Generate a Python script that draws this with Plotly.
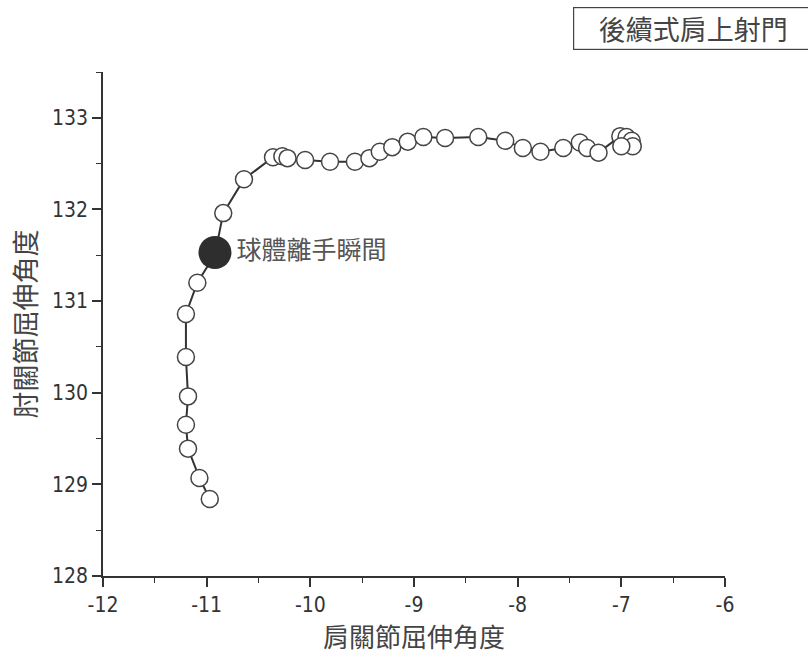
import plotly.graph_objects as go

# Trajectory (shoulder angle x, elbow angle y)
shoulder = [-10.97, -11.07, -11.18, -11.20, -11.18, -11.20, -11.20, -11.09, -10.92,
            -10.84, -10.64, -10.36, -10.27, -10.22, -10.05, -9.81, -9.57, -9.43,
            -9.33, -9.21, -9.06, -8.91, -8.70, -8.38, -8.12, -7.95, -7.78, -7.56,
            -7.40, -7.33, -7.22, -7.01, -6.95, -6.90, -6.89, -7.00]
elbow = [128.84, 129.07, 129.39, 129.65, 129.96, 130.39, 130.86, 131.20, 131.51,
         131.96, 132.33, 132.57, 132.58, 132.56, 132.54, 132.52, 132.52, 132.56,
         132.63, 132.68, 132.74, 132.79, 132.78, 132.79, 132.75, 132.67, 132.63, 132.67,
         132.73, 132.67, 132.62, 132.80, 132.79, 132.75, 132.69, 132.69]
release_x = [-10.92]
release_y = [131.53]
release_label = "球體離手瞬間"
title_text = "後續式肩上射門"
x_title = "肩關節屈伸角度"
y_title = "肘關節屈伸角度"
x_ticks = [-12, -11, -10, -9, -8, -7, -6]
x_ticktext = ["-12", "-11", "-10", "-9", "-8", "-7", "-6"]
y_ticks = [128, 129, 130, 131, 132, 133]
y_ticktext = ["128", "129", "130", "131", "132", "133"]

cjk = "Noto Sans CJK TC"
num_font = "DejaVu Sans Condensed, Liberation Sans"
ink = "#333333"

fig = go.Figure()
fig.add_trace(go.Scatter(
    x=shoulder, y=elbow, mode="lines+markers",
    line=dict(color=ink, width=2),
    marker=dict(size=17, color="white", line=dict(color="#444", width=1.5)),
    showlegend=False, hoverinfo="skip"))
fig.add_trace(go.Scatter(
    x=release_x, y=release_y, mode="markers+text",
    marker=dict(size=33, color="#2e2e2e", line=dict(width=0)),
    text=[release_label], textposition="middle right",
    textfont=dict(family=cjk, size=25, color="#555"),
    showlegend=False, hoverinfo="skip"))

axis_common = dict(
    showline=True, linecolor=ink, linewidth=1.5, mirror=False,
    ticks="outside", ticklen=9, tickwidth=1.5, tickcolor=ink,
    showgrid=False, zeroline=False,
    tickfont=dict(family=num_font, size=21, color="#333"),
)
fig.update_xaxes(range=[-12, -6], tickvals=x_ticks, ticktext=x_ticktext,
                 minor=dict(dtick=0.5, ticks="outside", ticklen=5, tickcolor=ink, tickwidth=1),
                 title=dict(text=x_title, font=dict(family=cjk, size=26, color="#444"), standoff=10),
                 **axis_common)
fig.update_yaxes(range=[128, 133.5], tickvals=y_ticks, ticktext=y_ticktext,
                 minor=dict(dtick=0.5, ticks="outside", ticklen=5, tickcolor=ink, tickwidth=1),
                 title=dict(text=y_title, font=dict(family=cjk, size=27, color="#444"), standoff=8),
                 **axis_common)

fig.add_annotation(
    xref="paper", yref="paper", x=1.0, y=1.0, xanchor="left", yanchor="bottom",
    xshift=-152, yshift=22,
    text=title_text, showarrow=False, width=236, align="center",
    font=dict(family=cjk, size=27, color="#444"),
    bordercolor="#444", borderwidth=1.2, borderpad=1, bgcolor="white")

fig.update_layout(
    width=808, height=657,
    margin=dict(l=103, r=83, t=72, b=79),
    paper_bgcolor="white", plot_bgcolor="white",
)
fig.write_html("out.html")
